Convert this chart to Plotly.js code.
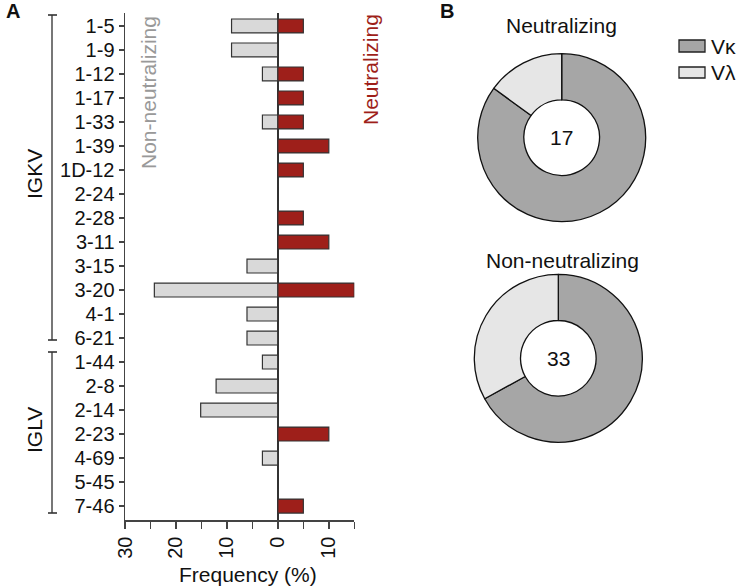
<!DOCTYPE html>
<html>
<head>
<meta charset="utf-8">
<script src="https://cdn.plot.ly/plotly-3.0.1.min.js"></script>
<style>html,body{margin:0;padding:0;background:#fff;}#chart{width:736px;height:587px;}</style>
</head>
<body>
<div id="chart"></div>
<script>
// ---- Data ----
const genes = ["1-5","1-9","1-12","1-17","1-33","1-39","1D-12","2-24","2-28","3-11","3-15","3-20","4-1","6-21",
               "1-44","2-8","2-14","2-23","4-69","5-45","7-46"];
const nonNeutralizing = [9.09,9.09,3.03,0,3.03,0,0,0,0,0,6.06,24.24,6.06,6.06,3.03,12.12,15.15,0,3.03,0,0];
const neutralizing    = [5,0,5,5,5,10,5,0,5,10,0,15,0,0,0,0,0,10,0,0,5];
const xTickVals = [-30,-25,-20,-15,-10,-5,0,5,10,15];
const xTickText = ["30","","20","","10","","0","","10",""];
const chainLabels = ["Vκ","Vλ"];
const neutPie = [85,15];
const nonNeutPie = [67,33];
const neutCount = "17";
const nonNeutCount = "33";

const FONT = "Liberation Sans, Arial, Helvetica, sans-serif";
const W = 736, H = 587;
const px = x => x / W;
const py = y => 1 - y / H;

const pieLine = {color: "#111", width: 1.3};
const pieColors = ["#a6a6a6", "#e6e6e6"];

const traces = [
  {type: "bar", orientation: "h", y: genes, x: nonNeutralizing.map(v => -v),
   marker: {color: "#d9d9d9", line: {color: "#333", width: 1.2}}, hoverinfo: "skip"},
  {type: "bar", orientation: "h", y: genes, x: neutralizing,
   marker: {color: "#9e1f1a", line: {color: "#333", width: 1.2}}, hoverinfo: "skip"},
  {type: "pie", values: neutPie, labels: chainLabels, hole: 0.45, sort: false, direction: "clockwise", rotation: 0,
   textinfo: "none", marker: {colors: pieColors, line: pieLine},
   domain: {x: [px(561.7-84), px(561.7+84)], y: [py(137.7+84), py(137.7-84)]}},
  {type: "pie", values: nonNeutPie, labels: chainLabels, hole: 0.45, sort: false, direction: "clockwise", rotation: 0,
   textinfo: "none", marker: {colors: pieColors, line: pieLine},
   domain: {x: [px(558.3-84), px(558.3+84)], y: [py(358.3+84), py(358.3-84)]}}
];

const ann = (x, y, text, opts) => Object.assign({xref: "paper", yref: "paper", x: px(x), y: py(y), text: text,
  showarrow: false, xanchor: "center", yanchor: "middle", font: {family: FONT, size: 21, color: "#111"}}, opts || {});

const layout = {
  width: W, height: H,
  margin: {l: 0, r: 0, t: 0, b: 0},
  paper_bgcolor: "#fff", plot_bgcolor: "rgba(0,0,0,0)",
  showlegend: false,
  barmode: "relative", bargap: 0.42,
  font: {family: FONT, size: 20, color: "#111"},
  xaxis: {
    domain: [px(125), px(354.3)], range: [-30, 15],
    tickmode: "array", tickvals: xTickVals, ticktext: xTickText, tickangle: -90,
    ticks: "outside", ticklen: 7, tickwidth: 1.5, tickcolor: "#444",
    showline: true, linecolor: "#444", linewidth: 1.5,
    showgrid: false, zeroline: true, zerolinecolor: "#333", zerolinewidth: 1.5,
    tickfont: {family: FONT, size: 20, color: "#111"}, fixedrange: true
  },
  yaxis: {
    domain: [py(520), py(13)], type: "category", categoryorder: "array", categoryarray: genes,
    range: [20.58, -0.54],
    ticks: "outside", ticklen: 5, tickwidth: 1.5, tickcolor: "#444",
    showline: true, linecolor: "#444", linewidth: 1.5, showgrid: false, zeroline: false,
    tickfont: {family: FONT, size: 20, color: "#111"}, fixedrange: true
  },
  shapes: [
    // IGKV bracket
    {type: "line", xref: "paper", yref: "paper", x0: px(52), x1: px(52), y0: py(15), y1: py(340), line: {color: "#555", width: 1.6}},
    {type: "line", xref: "paper", yref: "paper", x0: px(48), x1: px(57), y0: py(15), y1: py(15), line: {color: "#333", width: 1.6}},
    {type: "line", xref: "paper", yref: "paper", x0: px(48), x1: px(57), y0: py(340), y1: py(340), line: {color: "#333", width: 1.6}},
    // IGLV bracket
    {type: "line", xref: "paper", yref: "paper", x0: px(52), x1: px(52), y0: py(352), y1: py(513), line: {color: "#555", width: 1.6}},
    {type: "line", xref: "paper", yref: "paper", x0: px(48), x1: px(57), y0: py(352), y1: py(352), line: {color: "#333", width: 1.6}},
    {type: "line", xref: "paper", yref: "paper", x0: px(48), x1: px(57), y0: py(513), y1: py(513), line: {color: "#333", width: 1.6}},
    // legend boxes
    {type: "rect", xref: "paper", yref: "paper", x0: px(679), x1: px(705), y0: py(52), y1: py(40), fillcolor: pieColors[0], line: {color: "#222", width: 1.3}},
    {type: "rect", xref: "paper", yref: "paper", x0: px(679), x1: px(705), y0: py(78), y1: py(67), fillcolor: pieColors[1], line: {color: "#222", width: 1.3}}
  ],
  annotations: [
    ann(13, 11, "<b>A</b>", {font: {family: FONT, size: 20, color: "#111"}}),
    ann(447, 11, "<b>B</b>", {font: {family: FONT, size: 20, color: "#111"}}),
    ann(34, 174, "IGKV", {textangle: -90}),
    ann(34, 430, "IGLV", {textangle: -90}),
    ann(148, 93, "Non-neutralizing", {textangle: -90, font: {family: FONT, size: 21, color: "#999"}}),
    ann(371, 70, "Neutralizing", {textangle: -90, font: {family: FONT, size: 21, color: "#9e1f1a"}}),
    ann(248, 574, "Frequency (%)"),
    ann(561.7, 25, "Neutralizing"),
    ann(562, 260, "Non-neutralizing"),
    ann(561.7, 137.7, neutCount, {font: {family: FONT, size: 21, color: "#111"}}),
    ann(558.3, 358.3, nonNeutCount, {font: {family: FONT, size: 21, color: "#111"}}),
    ann(709, 46, chainLabels[0], {xanchor: "left"}),
    ann(709, 73, chainLabels[1], {xanchor: "left"})
  ]
};

Plotly.newPlot("chart", traces, layout, {displayModeBar: false, staticPlot: true});
</script>
</body>
</html>
